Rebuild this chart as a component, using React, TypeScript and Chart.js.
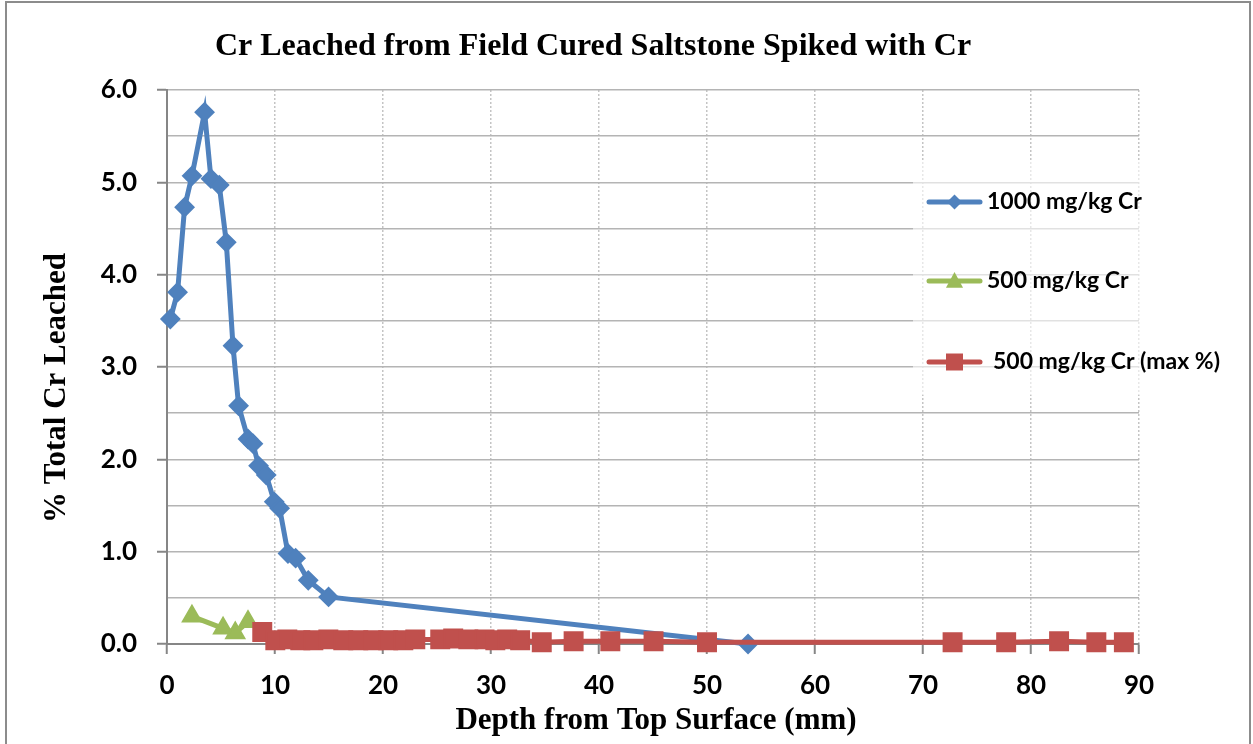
import React, { useEffect, useRef } from "react";
import { Chart, registerables } from "chart.js";

Chart.register(...registerables);

const TITLE = "Cr Leached from Field Cured Saltstone Spiked with Cr";
const X_TITLE = "Depth from Top Surface (mm)";
const Y_TITLE = "% Total Cr Leached";

const SERIES_NAMES = ["1000 mg/kg Cr", "500 mg/kg Cr", "500 mg/kg Cr (max %)"];
const SERIES_COLORS = ["#4F81BD", "#9BBB59", "#C0504D"];

// 1000 mg/kg Cr
const blueX = [0.31, 0.98, 1.63, 2.31, 3.48, 4.07, 4.84, 5.49, 6.11, 6.63, 7.5, 7.96, 8.48, 9.19, 9.93, 10.43, 11.2, 11.91, 13.08, 14.96, 53.8];
const blueY = [3.52, 3.81, 4.73, 5.07, 5.76, 5.04, 4.97, 4.35, 3.23, 2.58, 2.22, 2.17, 1.93, 1.83, 1.54, 1.47, 0.98, 0.93, 0.69, 0.51, 0.0];

// 500 mg/kg Cr
const greenX = [2.31, 5.19, 6.32, 7.5];
const greenY = [0.3, 0.17, 0.12, 0.24];

// 500 mg/kg Cr (max %)
const redX = [8.82, 10.03, 11.14, 12.34, 13.55, 14.94, 16.32, 17.71, 19.1, 20.48, 21.88, 22.99, 25.3, 26.5, 27.9, 29.4, 30.4, 31.5, 32.7, 34.7, 37.65, 41.05, 45.05, 50.0, 72.74, 77.7, 82.6, 86.05, 88.6];
const redY = [0.13, 0.04, 0.05, 0.04, 0.04, 0.05, 0.04, 0.04, 0.04, 0.04, 0.04, 0.05, 0.05, 0.06, 0.05, 0.05, 0.04, 0.05, 0.04, 0.02, 0.03, 0.03, 0.03, 0.02, 0.02, 0.02, 0.03, 0.02, 0.02];

const X_MIN = 0, X_MAX = 90, X_STEP = 10;
const Y_MIN = 0, Y_MAX = 6, Y_STEP = 0.5;

const pts = (xs: number[], ys: number[]) => xs.map((x, i) => ({ x, y: ys[i] }));

const TICK_FONT = { family: "Lato, 'Liberation Sans', sans-serif", size: 26, weight: "bold" as const };
const SERIF = "'Liberation Serif', 'Times New Roman', serif";
const SANS = "Lato, 'Liberation Sans', sans-serif";

function drawMarker(ctx: CanvasRenderingContext2D, shape: string, x: number, y: number, r: number) {
  ctx.beginPath();
  if (shape === "diamond") {
    ctx.moveTo(x, y - r);
    ctx.lineTo(x + r, y);
    ctx.lineTo(x, y + r);
    ctx.lineTo(x - r, y);
  } else if (shape === "triangle") {
    ctx.moveTo(x, y - r);
    ctx.lineTo(x + r * 0.95, y + r * 0.75);
    ctx.lineTo(x - r * 0.95, y + r * 0.75);
  } else {
    ctx.rect(x - r, y - r, 2 * r, 2 * r);
  }
  ctx.closePath();
  ctx.fill();
}

const decorPlugin = {
  id: "decor",
  afterDraw(chart: any) {
    const ctx: CanvasRenderingContext2D = chart.ctx;
    ctx.save();
    // outer frame
    ctx.strokeStyle = "#8C8C8C";
    ctx.lineWidth = 2;
    ctx.strokeRect(6, 2, 1244, 800);

    // title
    ctx.fillStyle = "#000";
    ctx.font = `bold 32px ${SERIF}`;
    ctx.textAlign = "center";
    ctx.textBaseline = "alphabetic";
    ctx.fillText(TITLE, 593, 55);

    // x axis title
    ctx.font = `bold 31px ${SERIF}`;
    ctx.fillText(X_TITLE, 656, 729);

    // y axis title
    ctx.save();
    ctx.translate(65, 388);
    ctx.rotate(-Math.PI / 2);
    ctx.fillText(Y_TITLE, 0, 0);
    ctx.restore();

    // legend box (semi-transparent)
    ctx.fillStyle = "rgba(255,255,255,0.6)";
    ctx.fillRect(913, 160, 332, 235);

    const rows = [202, 281, 362];
    const shapes = ["diamond", "triangle", "square"];
    const sizes = [7.5, 9, 8.5];
    const textX = [987, 987, 993];
    SERIES_NAMES.forEach((name, i) => {
      const y = rows[i];
      ctx.strokeStyle = SERIES_COLORS[i];
      ctx.lineWidth = 5;
      ctx.lineCap = "round";
      ctx.beginPath();
      ctx.moveTo(929, y);
      ctx.lineTo(980, y);
      ctx.stroke();
      ctx.fillStyle = SERIES_COLORS[i];
      drawMarker(ctx, shapes[i], 954.5, y, sizes[i]);
      ctx.fillStyle = "#000";
      ctx.font = `bold 23px ${SANS}`;
      ctx.textAlign = "left";
      ctx.textBaseline = "middle";
      ctx.fillText(name, textX[i], y);
    });
    ctx.restore();
  },
};

export default function App() {
  const ref = useRef<HTMLCanvasElement | null>(null);

  useEffect(() => {
    if (!ref.current) return;
    const chart = new Chart(ref.current, {
      type: "scatter",
      data: {
        datasets: [
          {
            label: SERIES_NAMES[0],
            data: pts(blueX, blueY),
            showLine: true,
            borderColor: SERIES_COLORS[0],
            backgroundColor: SERIES_COLORS[0],
            borderWidth: 5,
            pointStyle: "rectRot",
            pointRadius: 9,
            pointBorderWidth: 2,
            pointBorderColor: SERIES_COLORS[0],
            pointBackgroundColor: SERIES_COLORS[0],
            clip: false,
            order: 2,
          } as any,
          {
            label: SERIES_NAMES[1],
            data: pts(greenX, greenY),
            showLine: true,
            borderColor: SERIES_COLORS[1],
            backgroundColor: SERIES_COLORS[1],
            borderWidth: 5,
            pointStyle: "triangle",
            pointRadius: 10.5,
            pointBorderWidth: 2,
            pointBorderColor: SERIES_COLORS[1],
            pointBackgroundColor: SERIES_COLORS[1],
            clip: false,
            order: 1,
          } as any,
          {
            label: SERIES_NAMES[2],
            data: pts(redX, redY),
            showLine: true,
            borderColor: SERIES_COLORS[2],
            backgroundColor: SERIES_COLORS[2],
            borderWidth: 5,
            pointStyle: "rect",
            pointRadius: 12.7,
            pointBorderWidth: 2,
            pointBorderColor: SERIES_COLORS[2],
            pointBackgroundColor: SERIES_COLORS[2],
            clip: false,
            order: 0,
          } as any,
        ],
      },
      options: {
        animation: false,
        responsive: false,
        devicePixelRatio: 1,
        layout: { padding: { top: 90, right: 114, left: 0, bottom: 0 } },
        plugins: {
          legend: { display: false },
          title: { display: false },
          tooltip: { enabled: false },
        },
        scales: {
          x: {
            type: "linear",
            min: X_MIN,
            max: X_MAX,
            afterFit: (s: any) => {
              s.height = 100;
            },
            ticks: {
              stepSize: X_STEP,
              autoSkip: false,
              maxRotation: 0,
              padding: 16,
              color: "#000",
              font: TICK_FONT,
            },
            grid: {
              color: "#C4C4C4",
              lineWidth: 1.5,
              tickColor: "#868686",
              tickLength: 10,
              tickWidth: 2,
            },
            border: { color: "#868686", width: 2, dash: [2, 2] },
          },
          y: {
            type: "linear",
            min: Y_MIN,
            max: Y_MAX,
            afterFit: (s: any) => {
              s.width = 167;
            },
            ticks: {
              stepSize: Y_STEP,
              autoSkip: false,
              padding: 20,
              color: "#000",
              font: TICK_FONT,
              callback: (v: any) => (Number(v) % 1 === 0 ? Number(v).toFixed(1) : ""),
            },
            grid: {
              color: "#B4B4B4",
              lineWidth: 1.5,
              tickColor: (c: any) => (c.tick && c.tick.value % 1 === 0 ? "#868686" : "rgba(0,0,0,0)"),
              tickLength: 10,
              tickWidth: 2,
            },
            border: { color: "#868686", width: 2 },
          },
        },
      },
      plugins: [decorPlugin],
    } as any);
    return () => chart.destroy();
  }, []);

  return (
    <div style={{ position: "absolute", left: 0, top: 0, width: 1253, height: 744, background: "#fff" }}>
      <canvas ref={ref} width={1253} height={744} style={{ display: "block", width: 1253, height: 744 }} />
    </div>
  );
}
